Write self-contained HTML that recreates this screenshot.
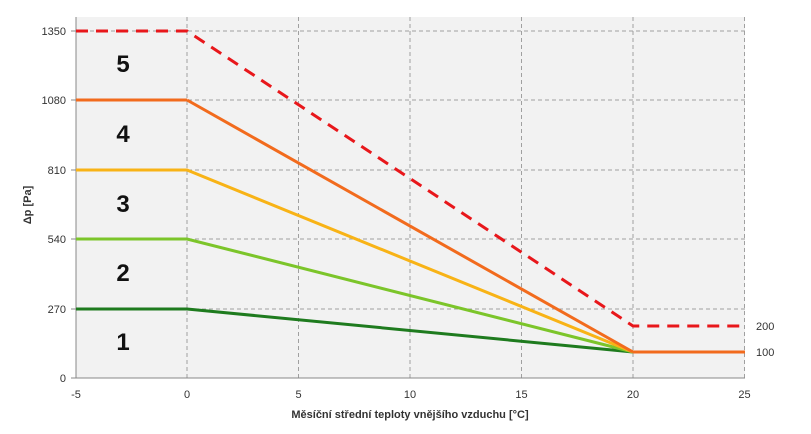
<!DOCTYPE html><html><head><style>body{margin:0;background:#fff}svg{display:block;font-family:"Liberation Sans",sans-serif}</style></head><body>
<svg width="811" height="434" xmlns="http://www.w3.org/2000/svg">
<rect x="76" y="17" width="669" height="361" fill="#f2f2f2"/>
<g stroke="#a0a0a0" stroke-dasharray="4,3" stroke-width="1">
<line x1="187" y1="17" x2="187" y2="378"/><line x1="298.5" y1="17" x2="298.5" y2="378"/><line x1="410" y1="17" x2="410" y2="378"/><line x1="521.5" y1="17" x2="521.5" y2="378"/><line x1="633" y1="17" x2="633" y2="378"/><line x1="744.5" y1="17" x2="744.5" y2="378"/>
<line x1="76" y1="309" x2="745" y2="309"/><line x1="76" y1="239" x2="745" y2="239"/><line x1="76" y1="170" x2="745" y2="170"/><line x1="76" y1="100" x2="745" y2="100"/><line x1="76" y1="31" x2="745" y2="31"/>
</g>
<g stroke="#888" stroke-width="1"><line x1="76" y1="17" x2="76" y2="378"/><line x1="76" y1="378" x2="745" y2="378"/>
<line x1="71" y1="378" x2="76" y2="378"/><line x1="71" y1="309" x2="76" y2="309"/><line x1="71" y1="239" x2="76" y2="239"/><line x1="71" y1="170" x2="76" y2="170"/><line x1="71" y1="100" x2="76" y2="100"/><line x1="71" y1="31" x2="76" y2="31"/></g>
<g fill="none" stroke-width="3">
<polyline points="76,309 187,309 633,352" stroke="#1e7b1e"/>
<polyline points="76,239 187,239 633,352" stroke="#7cc52a"/>
<polyline points="76,170 187,170 633,352" stroke="#f8b316"/>
<polyline points="187,100 633,352" stroke="#f26b1d"/>
<polyline points="76,100 187,100" stroke="#f26b1d"/>
<polyline points="633,352 745,352" stroke="#f26b1d"/>
<polyline points="76,31 187,31 633,326 745,326" stroke="#e8171b" stroke-dasharray="12,8"/>
</g>
<g font-size="11" fill="#333" text-anchor="end">
<text x="66" y="382">0</text><text x="66" y="313">270</text><text x="66" y="243">540</text><text x="66" y="174">810</text><text x="66" y="104">1080</text><text x="66" y="35">1350</text></g>
<g font-size="11" fill="#333" text-anchor="middle">
<text x="76" y="398">-5</text><text x="187" y="398">0</text><text x="298.5" y="398">5</text><text x="410" y="398">10</text><text x="521.5" y="398">15</text><text x="633" y="398">20</text><text x="744.5" y="398">25</text></g>
<text x="756" y="330" font-size="11" fill="#333">200</text><text x="756" y="356" font-size="11" fill="#333">100</text>
<g font-size="24" font-weight="bold" fill="#111" text-anchor="middle">
<text x="123" y="72">5</text><text x="123" y="142">4</text><text x="123" y="212">3</text><text x="123" y="281">2</text><text x="123" y="350">1</text></g>
<text x="410" y="418" font-size="11" font-weight="bold" fill="#333" text-anchor="middle">Měsíční střední teploty vnějšího vzduchu [°C]</text>
<text transform="translate(31,205) rotate(-90)" font-size="11" font-weight="bold" fill="#333" text-anchor="middle">Δp [Pa]</text>
</svg></body></html>
